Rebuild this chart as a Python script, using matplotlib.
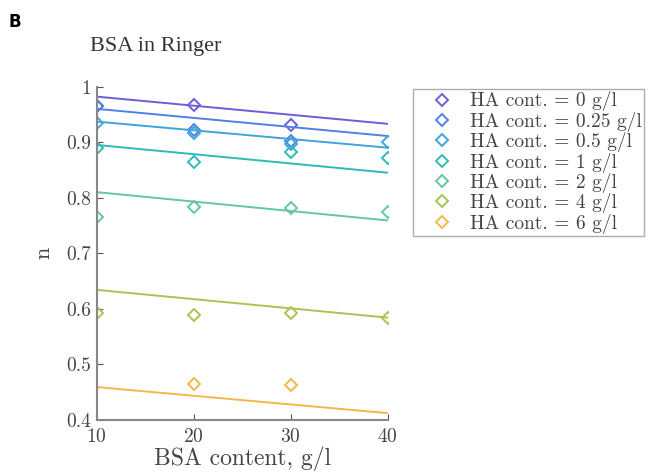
import numpy as np
import matplotlib.pyplot as plt

bsa = [10, 20, 30, 40]
ha_labels = ['0', '0.25', '0.5', '1', '2', '4', '6']

# measured points (nan = not visible)
n_meas = [
    [0.966, 0.967, 0.931, np.nan],
    [0.966, 0.922, 0.902, np.nan],
    [0.935, 0.916, 0.896, 0.900],
    [0.889, 0.864, 0.882, 0.871],
    [0.765, 0.783, 0.782, 0.774],
    [0.593, 0.589, 0.593, 0.584],
    [np.nan, 0.465, 0.463, np.nan],
]
# model line ends at BSA = 10 and 40
fit_start = [0.982, 0.960, 0.937, 0.895, 0.810, 0.634, 0.459]
fit_end = [0.933, 0.911, 0.890, 0.845, 0.759, 0.584, 0.412]

colors = ['#6a5fd8', '#4f80e6', '#3fa4dc', '#2fbab8', '#62c99a', '#a9c452', '#f2b84a']

plt.rcParams['font.family'] = 'cmr10'
plt.rcParams['axes.formatter.use_mathtext'] = True

fig = plt.figure(figsize=(6.54, 4.76), dpi=100)
ax = fig.add_axes([0.148, 0.118, 0.445, 0.70])

handles = []
for i in range(len(ha_labels)):
    ax.plot([bsa[0], bsa[-1]], [fit_start[i], fit_end[i]], '-', color=colors[i], lw=1.4)
    h, = ax.plot(bsa, n_meas[i], 'D', mfc='none', mec=colors[i], ms=6, mew=1.4,
                 label='HA cont. = ' + ha_labels[i] + ' g/l')
    handles.append(h)

ax.set_xlim(10, 40)
ax.set_ylim(0.4, 1.0)
ax.set_xticks(bsa)
ax.set_yticks([0.4, 0.5, 0.6, 0.7, 0.8, 0.9, 1.0])
ax.set_yticklabels(['0.4', '0.5', '0.6', '0.7', '0.8', '0.9', '1'])
ax.tick_params(direction='in', length=4, labelsize=14, colors='#555555', labelcolor='#444444')
ax.tick_params(axis='x', pad=6)
ax.tick_params(axis='y', pad=4)
for s in ['top', 'right']:
    ax.spines[s].set_visible(False)
for s in ['left', 'bottom']:
    ax.spines[s].set_color('#888888')
    ax.spines[s].set_linewidth(1.5)
ax.set_xlabel('BSA content, g/l', fontsize=17, color='#444444', labelpad=0)
ax.set_ylabel('n', fontsize=16, color='#444444', labelpad=9)

fig.legend(handles=handles, loc='upper left', bbox_to_anchor=(413/654, 1 - 89/476),
           borderaxespad=0, fontsize=14, frameon=True, fancybox=False, edgecolor='#999999',
           handlelength=2.7, handletextpad=0.1, labelspacing=0.02, borderpad=0.12,
           labelcolor='#444444')

fig.text(90/654, 1 - 47/476, 'BSA in Ringer', fontsize=16, family='Liberation Serif',
         color='#333333', va='center')
fig.text(8/654, 1 - 22/476, 'B', fontsize=12, family='DejaVu Sans', weight='bold', va='center')

fig.savefig('out.png', dpi=100)
